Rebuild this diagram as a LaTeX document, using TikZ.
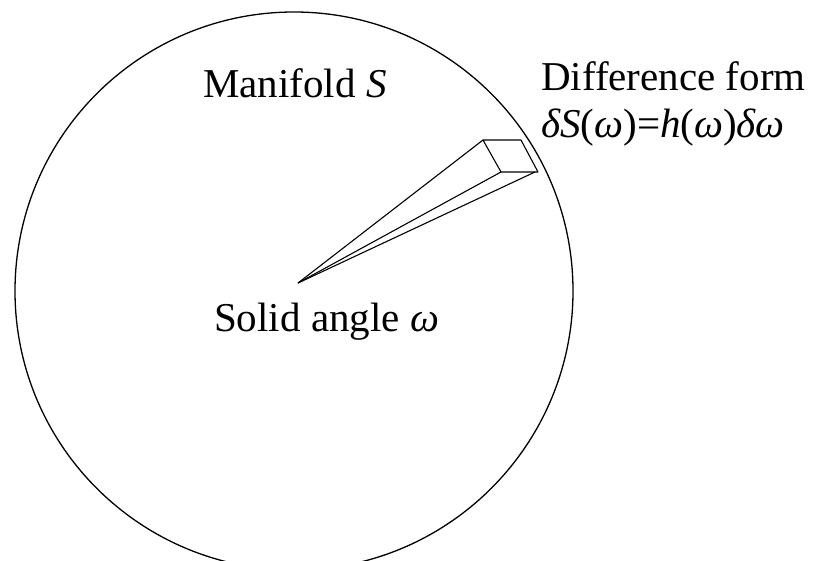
\documentclass[tikz,border=0pt]{standalone}
\usepackage{fontspec}
\setmainfont{Liberation Serif}
\usepackage{tikz}
\tikzset{
	lbl/.style={anchor=base west, inner sep=0pt, font=\fontsize{41}{49}\selectfont},
	thin line/.style={line width=1.1pt, line join=round}
}

\begin{document}
\begin{tikzpicture}[x=1pt, y=-1pt]
			\clip (0,0) rectangle (816,560);
			% manifold
			\coordinate (centre) at (294,291);
			\draw[line width=1.3pt] (centre) circle (279);
			
			% solid angle cone
			\coordinate (apex) at (298,283);
			\coordinate (tl) at (483,140);
			\coordinate (tr) at (521,140);
			\coordinate (br) at (538,172);
			\coordinate (bl) at (501,172);
			\coordinate (bb) at (535,172);
			\draw[thin line] (apex) -- (tl);
			\draw[thin line] (apex) -- (bl);
			\draw[thin line] (apex) -- (bb);
			\draw[thin line] (tl) -- (tr) -- (br) -- (bl) -- cycle;
			
			\node[lbl] (manifold) at (203,97) {Manifold \textit{S}};
			\node[lbl] (solid) at (214,331) {Solid angle \textit{ω}};
			\node[lbl] (diff) at (541,90) {Difference form};
			\node[lbl] (form) at (541,137) {\textit{δS}(\textit{ω})=\textit{h}(\textit{ω})\textit{δω}};
		\end{tikzpicture}
\end{document}
